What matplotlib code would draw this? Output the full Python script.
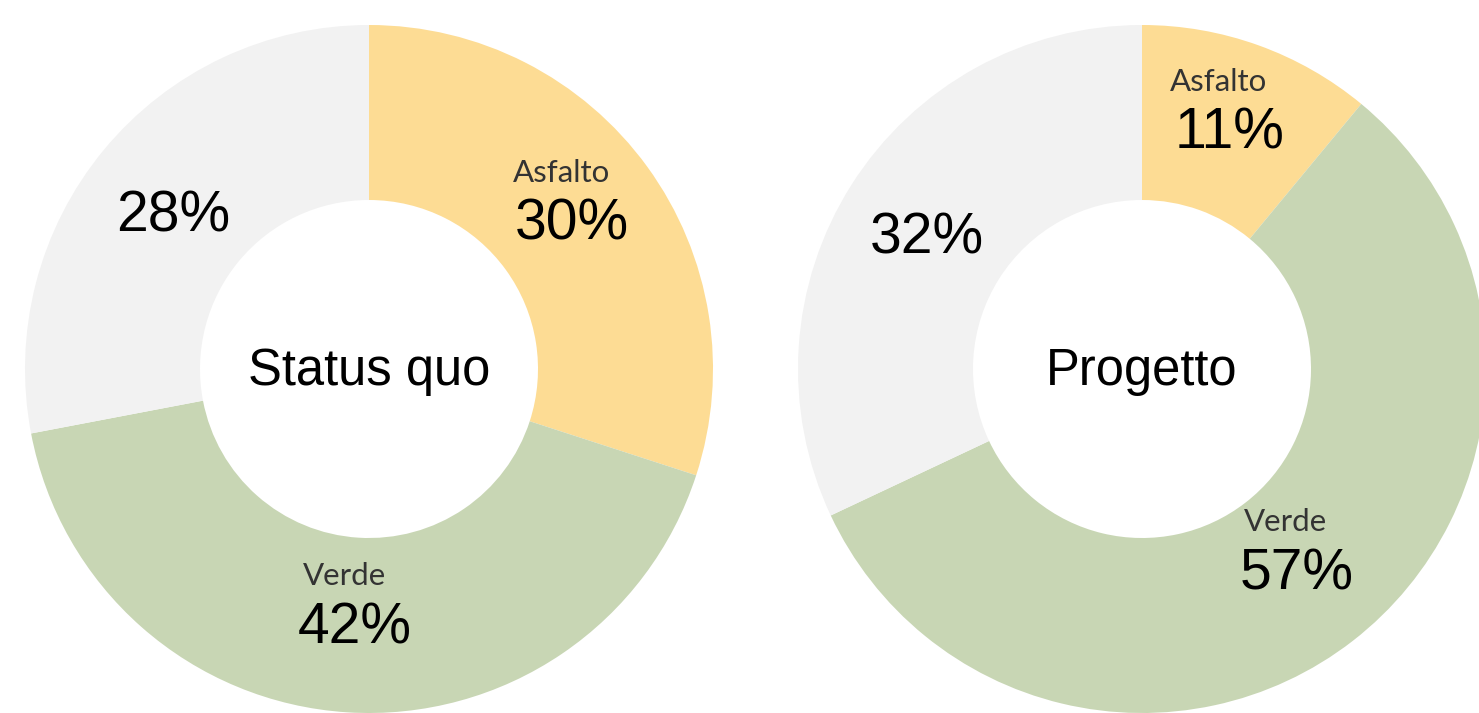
import matplotlib
matplotlib.use("Agg")
import matplotlib.pyplot as plt

# data
categories = ["Asfalto", "Verde", "Altro"]
status_quo = [30, 42, 28]
progetto = [11, 57, 32]
titles = ["Status quo", "Progetto"]
show_name = [True, True, False]

colors = ["#FDDC94", "#C8D6B4", "#F2F2F2"]

W, H = 1479, 713
fig = plt.figure(figsize=(W / 100, H / 100), dpi=100)
ax = fig.add_axes([0, 0, 1, 1])

R = 344
ring = 175
centers = [(369, 344), (1142, 344)]
# where each label block sits, relative to the donut centre (in radius units)
label_pos = [
    [(0.576, 0.50), (-0.055, -0.672), (-0.570, 0.456)],
    [(0.241, 0.765), (0.436, -0.515), (-0.625, 0.390)],
]

for k, vals in enumerate([status_quo, progetto]):
    cx, cy = centers[k]
    ax.pie(vals, colors=colors, startangle=90, counterclock=False,
           radius=R, center=(cx, cy), wedgeprops=dict(width=ring, linewidth=0))
    ax.text(cx, cy - 3, titles[k], ha="center", va="center", fontsize=36.5,
            family="Liberation Sans", color="black")
    for i, v in enumerate(vals):
        px = cx + label_pos[k][i][0] * R
        py = cy + label_pos[k][i][1] * R
        if show_name[i]:
            ax.text(px - 6, py + 24, categories[i], ha="center", va="center",
                    fontsize=22.5, family="Lato", color="#333333")
            ax.text(px + 5, py - 28, f"{v}%", ha="center", va="center",
                    fontsize=41, family="Liberation Sans", color="black")
        else:
            ax.text(px, py - 4, f"{v}%", ha="center", va="center",
                    fontsize=41, family="Liberation Sans", color="black")

ax.set_xlim(0, W)
ax.set_ylim(0, H)
ax.set_aspect("auto")
ax.axis("off")

fig.savefig("out.png", dpi=100)
